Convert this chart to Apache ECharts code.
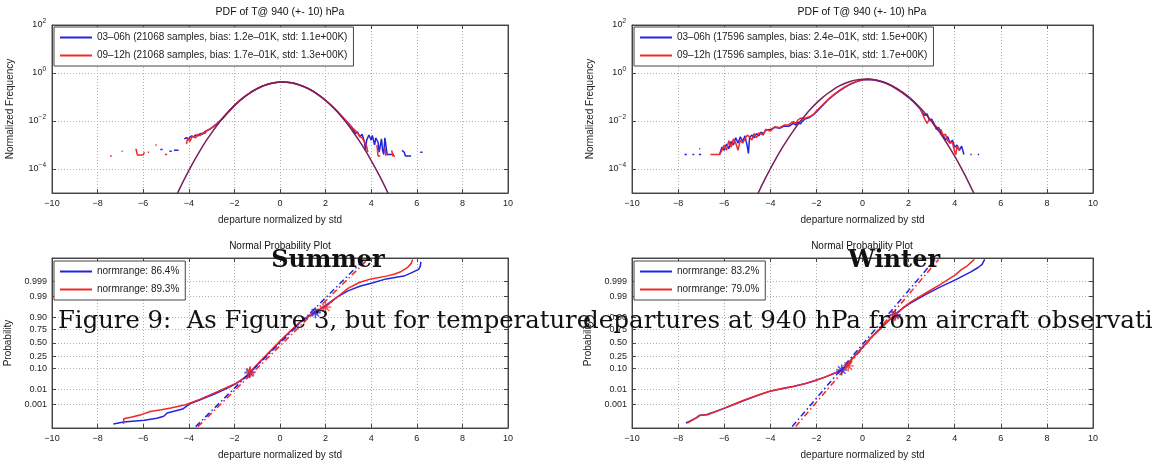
<!DOCTYPE html>
<html><head><meta charset="utf-8">
<script src="https://cdn.jsdelivr.net/npm/echarts@6/dist/echarts.min.js"></script>
<style>html,body{margin:0;padding:0;background:#fff}#c{width:1159px;height:463px}</style>
</head><body><div id="c"></div>
<script>
// ---------- labels ----------
const pdfTitle = 'PDF of T@ 940 (+- 10) hPa';
const nppTitle = 'Normal Probability Plot';
const sumNames = ['03\u201306h (21068 samples, bias: 1.2e\u201301K, std: 1.1e+00K)', '09\u201312h (21068 samples, bias: 1.7e\u201301K, std: 1.3e+00K)'];
const winNames = ['03\u201306h (17596 samples, bias: 2.4e\u201301K, std: 1.5e+00K)', '09\u201312h (17596 samples, bias: 3.1e\u201301K, std: 1.7e+00K)'];
const sumNppNames = ['normrange: 86.4%', 'normrange: 89.3%'];
const winNppNames = ['normrange: 83.2%', 'normrange: 79.0%'];
const pdfTickValues = [1e-4, 1e-2, 1, 100];
const probTickZ = [-3.09, -2.326, -1.2816, -0.6745, 0, 0.6745, 1.2816, 2.326, 3.09];
const probTickLabels = ['0.001', '0.01', '0.10', '0.25', '0.50', '0.75', '0.90', '0.99', '0.999'];
const overlaySummer = 'Summer';
const overlayWinter = 'Winter';
const captionLeft = 'Figure 9:  As Figure 3, but for temperature';
const captionRight = 'departures at 940 hPa from aircraft observati';

// ---------- Summer PDF ----------
const sumBluePdf = [
[-5.25,6.5e-4],[-5.15,6.5e-4],null,[-4.85,5.5e-4],[-4.75,5.5e-4],null,[-4.65,6e-4],[-4.45,6e-4],null,
[-4.2,1.8e-3],[-4.1,2.0e-3],[-4.0,1.8e-3],[-3.9,2.4e-3],[-3.8,2.2e-3],[-3.7,2.6e-3],[-3.6,2.4e-3],[-3.5,3.0e-3],[-3.4,2.8e-3],[-3.3,3.6e-3],[-3.2,4.0e-3],[-3.1,4.4e-3],[-3.0,5.2e-3],[-2.9,6.0e-3],[-2.8,7.2e-3],[-2.7,8.5e-3],[-2.5,1.3e-2],[-2.25,2.4e-2],[-2,4.3e-2],[-1.75,7.2e-2],[-1.5,0.11],[-1.25,0.165],[-1,0.22],[-0.75,0.29],[-0.5,0.35],[-0.25,0.39],[0,0.42],[0.25,0.42],[0.5,0.39],[0.75,0.34],[1,0.28],[1.25,0.22],[1.5,0.16],[1.75,0.11],[2,0.072],[2.25,0.044],[2.5,0.026],[2.75,0.014],[2.9,0.01],[3.0,8e-3],[3.1,6e-3],[3.2,4.5e-3],[3.3,3e-3],[3.4,3.5e-3],[3.5,2.2e-3],[3.6,2.8e-3],[3.7,1.4e-3],[3.75,6e-4],[3.8,1.6e-3],[3.9,2.6e-3],[4.0,1.6e-3],[4.05,2.5e-3],[4.15,1.0e-3],[4.2,2.0e-3],[4.3,1.3e-3],[4.35,5e-4],[4.45,1.8e-3],[4.5,6e-4],[4.55,4e-4],[4.6,2.0e-3],[4.7,4e-4],[5.0,4e-4],null,
[5.35,6e-4],[5.45,5e-4],[5.5,3.5e-4],[5.75,3.5e-4],null,[6.15,5e-4],[6.25,5e-4]];
const sumRedPdf = [
[-7.45,3.5e-4],[-7.38,3.5e-4],null,[-6.95,5.5e-4],[-6.9,5.5e-4],null,[-6.32,7e-4],[-6.25,3.8e-4],[-6.0,3.8e-4],[-5.95,5e-4],null,[-5.8,5e-4],[-5.74,5e-4],null,[-5.47,1.0e-3],[-5.41,1.0e-3],null,[-5.05,4e-4],[-4.95,4e-4],null,
[-4.1,1.1e-3],[-4.05,2.0e-3],[-3.95,1.4e-3],[-3.85,2.3e-3],[-3.7,2.0e-3],[-3.6,2.8e-3],[-3.5,2.4e-3],[-3.4,3.2e-3],[-3.3,3.0e-3],[-3.2,4.0e-3],[-3.0,5.2e-3],[-2.8,7.5e-3],[-2.6,1.1e-2],[-2.5,1.4e-2],[-2.25,2.5e-2],[-2,4.5e-2],[-1.75,7.4e-2],[-1.5,0.112],[-1.25,0.165],[-1,0.225],[-0.75,0.29],[-0.5,0.35],[-0.25,0.395],[0,0.425],[0.25,0.425],[0.5,0.395],[0.75,0.345],[1,0.285],[1.25,0.222],[1.5,0.162],[1.75,0.112],[2,0.073],[2.25,0.045],[2.5,0.026],[2.75,0.0145],[3.0,8e-3],[3.2,5e-3],[3.4,3.2e-3],[3.5,2.2e-3],[3.6,2.0e-3],[3.7,1.4e-3],[3.8,9e-4],[3.85,5e-4],null,
[4.25,1.0e-3],[4.3,3.5e-4],[4.4,3.5e-4],null,[4.6,8e-4],[4.65,3.5e-4],null,[4.9,6e-4],[4.95,3.5e-4],[5.05,3.5e-4]];
const sumFitPdf = [[-4.75,2.97e-6],[-4.5,9.7e-6],[-4.25,2.99e-5],[-4,8.6e-5],[-3.75,2.35e-4],[-3.5,6.0e-4],[-3.25,1.44e-3],[-3,3.2e-3],[-2.75,6.8e-3],[-2.5,0.0136],[-2.25,0.0253],[-2,0.0444],[-1.75,0.0731],[-1.5,0.113],[-1.25,0.164],[-1,0.224],[-0.75,0.288],[-0.5,0.347],[-0.25,0.392],[0,0.417],[0.25,0.416],[0.5,0.391],[0.75,0.344],[1,0.285],[1.25,0.222],[1.5,0.162],[1.75,0.111],[2,0.0716],[2.25,0.0435],[2.5,0.0247],[2.75,0.0132],[3,6.6e-3],[3.25,3.1e-3],[3.5,1.39e-3],[3.75,5.8e-4],[4,2.25e-4],[4.25,8.3e-5],[4.5,2.9e-5],[4.75,9.3e-6],[5,2.8e-6]];

// ---------- Winter PDF ----------
const winBluePdf = [
[-7.72,4e-4],[-7.62,4e-4],null,[-7.38,4e-4],[-7.3,4e-4],null,[-7.08,7e-4],[-7.04,7e-4],null,[-7.1,4e-4],[-7.0,4e-4],null,
[-6.2,4e-4],[-6.1,8e-4],[-6.0,6e-4],[-5.9,1.1e-3],[-5.8,7e-4],[-5.7,1.4e-3],[-5.6,1.0e-3],[-5.5,2.0e-3],[-5.4,1.2e-3],[-5.3,2.2e-3],[-5.2,1.4e-3],[-5.1,2.4e-3],[-5.0,9e-4],[-4.95,4.5e-4],[-4.9,2.0e-3],[-4.8,2.6e-3],[-4.7,2.0e-3],[-4.6,3.0e-3],[-4.5,2.4e-3],[-4.4,3.4e-3],[-4.3,3.0e-3],[-4.2,4.2e-3],[-4.0,4.4e-3],[-3.8,5.5e-3],[-3.6,5.0e-3],[-3.4,6.2e-3],[-3.2,6.0e-3],[-3.0,8e-3],[-2.9,6.8e-3],[-2.8,9e-3],[-2.7,7.5e-3],[-2.6,1.0e-2],[-2.5,1.2e-2],[-2.3,1.4e-2],[-2.1,1.9e-2],[-2.0,2.4e-2],[-1.75,4.2e-2],[-1.5,7.5e-2],[-1.25,0.12],[-1,0.18],[-0.75,0.26],[-0.5,0.35],[-0.25,0.44],[0,0.51],[0.25,0.54],[0.5,0.51],[0.75,0.45],[1,0.38],[1.25,0.29],[1.5,0.21],[1.75,0.145],[2,0.095],[2.25,0.058],[2.5,0.032],[2.6,0.022],[2.7,0.017],[2.8,0.02],[2.9,0.011],[3.0,0.012],[3.1,8e-3],[3.2,4.5e-3],[3.3,5.5e-3],[3.4,3.2e-3],[3.5,2.6e-3],[3.6,1.6e-3],[3.7,2.2e-3],[3.8,1.2e-3],[3.9,1.6e-3],[4.0,8e-4],[4.1,1.0e-3],[4.2,6e-4],[4.3,9e-4],[4.4,4e-4],null,
[4.68,4e-4],[4.74,4e-4],null,[5.0,4e-4],[5.06,4e-4]];
const winRedPdf = [
[-6.6,4e-4],[-6.2,4e-4],[-6.1,6e-4],[-6.0,1.0e-3],[-5.9,6e-4],[-5.8,1.5e-3],[-5.7,8e-4],[-5.6,1.8e-3],[-5.5,1.2e-3],[-5.4,6e-4],[-5.3,1.6e-3],[-5.2,1.2e-3],[-5.1,1.8e-3],[-5.0,2.6e-3],[-4.9,2.2e-3],[-4.8,1.6e-3],[-4.7,3.0e-3],[-4.6,2.0e-3],[-4.5,3.2e-3],[-4.3,2.6e-3],[-4.2,4.5e-3],[-4.0,3.8e-3],[-3.8,5.8e-3],[-3.6,5.2e-3],[-3.4,6.8e-3],[-3.2,7.0e-3],[-3.0,9.5e-3],[-2.9,8e-3],[-2.8,1.1e-2],[-2.7,1.3e-2],[-2.5,1.3e-2],[-2.3,1.5e-2],[-2.1,2.0e-2],[-2.0,2.6e-2],[-1.75,4.5e-2],[-1.5,7.8e-2],[-1.25,0.125],[-1,0.19],[-0.75,0.27],[-0.5,0.36],[-0.25,0.45],[0,0.52],[0.25,0.55],[0.5,0.52],[0.75,0.46],[1,0.38],[1.25,0.3],[1.5,0.22],[1.75,0.15],[2,0.1],[2.25,0.06],[2.5,0.033],[2.6,0.02],[2.7,0.012],[2.8,0.008],[2.9,0.012],[3.0,0.01],[3.1,7e-3],[3.2,6e-3],[3.3,4e-3],[3.4,4.5e-3],[3.5,2.5e-3],[3.6,2.8e-3],[3.7,1.5e-3],[3.8,1.2e-3],[3.9,1.3e-3],[4.0,5e-4],[4.05,4e-4],[4.1,9e-4],[4.2,6e-4]];
const winFitPdf = [[-4.75,3.4e-6],[-4.5,1.13e-5],[-4.25,3.5e-5],[-4,1.02e-4],[-3.75,2.78e-4],[-3.5,7.2e-4],[-3.25,1.73e-3],[-3,3.9e-3],[-2.75,8.4e-3],[-2.5,0.0167],[-2.25,0.0314],[-2,0.0555],[-1.75,0.0921],[-1.5,0.1436],[-1.25,0.21],[-1,0.289],[-0.75,0.374],[-0.5,0.453],[-0.25,0.517],[0,0.554],[0.25,0.557],[0.5,0.527],[0.75,0.468],[1,0.39],[1.25,0.306],[1.5,0.225],[1.75,0.156],[2,0.1012],[2.25,0.0618],[2.5,0.0354],[2.75,0.0191],[3,9.6e-3],[3.25,4.6e-3],[3.5,2.05e-3],[3.75,8.6e-4],[4,3.4e-4],[4.25,1.25e-4],[4.5,4.4e-5],[4.75,1.42e-5],[5,4.4e-6]];

// ---------- Summer normal probability ----------
const sumBlueNpp = [[-7.31,-4.07],[-6.86,-3.97],[-5.95,-3.88],[-5.4,-3.78],[-5.1,-3.68],[-4.95,-3.52],[-4.27,-3.32],[-3.95,-3.05],[-3.5,-2.85],[-2.85,-2.55],[-2.4,-2.32],[-1.94,-2.05],[-1.6,-1.78],[-1.33,-1.52],[-0.9,-0.98],[-0.45,-0.45],[0,0.08],[0.45,0.58],[0.9,1.06],[1.25,1.33],[1.55,1.55],[2.07,1.94],[2.5,2.3],[2.98,2.62],[3.5,2.85],[4.0,3.0],[4.66,3.22],[5.1,3.3],[5.43,3.36],[5.76,3.52],[6.08,3.7],[6.15,3.85],[6.18,4.07]];
const sumRedNpp = [[-6.86,-4.07],[-6.85,-3.8],[-6.5,-3.72],[-6.08,-3.6],[-5.69,-3.44],[-5.2,-3.35],[-4.79,-3.26],[-4.14,-3.1],[-3.49,-2.82],[-2.72,-2.43],[-1.94,-2.03],[-1.42,-1.66],[-1.3,-1.45],[-0.9,-0.96],[-0.45,-0.43],[0,0.1],[0.45,0.6],[0.9,1.08],[1.3,1.4],[1.6,1.6],[2.0,1.82],[2.5,2.3],[2.98,2.74],[3.5,3.05],[4.0,3.22],[4.66,3.36],[5.0,3.45],[5.3,3.58],[5.6,3.8],[5.76,4.0],[5.82,4.2]];
const sumBlueRef = [[-3.7,-4.2],[3.7,4.2]];
const sumRedRef = [[-3.6,-4.2],[3.85,4.2]];
const sumBlueMarks = [[-1.33,-1.5],[1.55,1.52]];
const sumRedMarks = [[-1.3,-1.45],[2.0,1.8]];

// ---------- Winter normal probability ----------
const winBlueNpp = [[-7.66,-4.02],[-7.47,-3.92],[-7.2,-3.75],[-7.08,-3.64],[-6.75,-3.59],[-6.4,-3.45],[-5.97,-3.27],[-5.5,-3.05],[-5.06,-2.85],[-4.5,-2.62],[-4.03,-2.43],[-3.5,-2.3],[-2.99,-2.18],[-2.5,-2.05],[-2.08,-1.9],[-1.6,-1.7],[-1.3,-1.56],[-0.9,-1.36],[-0.5,-0.85],[0,-0.22],[0.4,0.3],[0.78,0.72],[1.1,1.08],[1.43,1.44],[1.75,1.75],[2.08,2.0],[2.73,2.43],[3.38,2.82],[4.03,3.17],[4.68,3.56],[5.0,3.78],[5.19,3.95],[5.3,4.2]];
const winRedNpp = [[-7.6,-4.02],[-7.5,-3.95],[-7.15,-3.72],[-7.05,-3.63],[-6.7,-3.6],[-6.4,-3.46],[-5.97,-3.26],[-5.5,-3.04],[-5.06,-2.84],[-4.5,-2.6],[-4.03,-2.42],[-3.5,-2.29],[-2.99,-2.17],[-2.5,-2.04],[-2.08,-1.9],[-1.6,-1.7],[-1.3,-1.55],[-0.9,-1.35],[-0.6,-1.12],[-0.5,-0.88],[0,-0.2],[0.4,0.32],[0.78,0.74],[1.1,1.1],[1.43,1.42],[1.75,1.76],[2.08,2.05],[2.73,2.5],[3.38,2.95],[4.03,3.42],[4.3,3.7],[4.55,3.88],[4.85,4.2]];
const winBlueRef = [[-3.05,-4.2],[3.15,4.2]];
const winRedRef = [[-2.9,-4.2],[3.3,4.2]];
const winBlueMarks = [[-0.9,-1.36],[1.43,1.42]];
const winRedMarks = [[-0.62,-1.15],[1.4,1.38]];

// ---------- styling ----------
const SANS = 'Liberation Sans, Arial, Helvetica, sans-serif';
const SERIF = 'DejaVu Serif, serif';
const BLUE = '#2424dc', RED = '#f02828', FIT = '#7a1f5c';
const TXT = '#222';
const PROB_LIM = 4.27;
const grids = [
  {left: 52, top: 25, width: 456, height: 168},
  {left: 632, top: 25, width: 461, height: 168},
  {left: 52, top: 258, width: 456, height: 170},
  {left: 632, top: 258, width: 461, height: 170}
];
const gap = arr => arr.map(p => p === null ? ['-', '-'] : p);
const minus = v => String(v).replace('-', '\u2212');
const gridLine = {show: true, lineStyle: {color: '#b0b0b0', type: [1, 2]}};
const tickStyle = {show: true, inside: true, length: 4, lineStyle: {color: '#444'}};
const axLine = {show: true, onZero: false, lineStyle: {color: '#444'}};
const nameStyle = {fontFamily: SANS, fontSize: 10, color: TXT};

function xAx(i) {
  return {type: 'value', gridIndex: i, min: -10, max: 10, interval: 2, axisLine: axLine, axisTick: tickStyle,
    axisLabel: {fontFamily: SANS, fontSize: 9, color: TXT, margin: 6, formatter: minus},
    splitLine: gridLine, name: 'departure normalized by std', nameLocation: 'middle', nameGap: 22, nameTextStyle: nameStyle};
}
function xTop(i) {
  return {type: 'value', gridIndex: i, position: 'top', min: -10, max: 10, interval: 2, axisLine: axLine,
    axisTick: tickStyle, axisLabel: {show: false}, splitLine: {show: false}};
}
function yLog(i) {
  return {type: 'log', gridIndex: i, logBase: 10, min: 1e-5, max: 100, axisLine: axLine,
    axisTick: Object.assign({customValues: pdfTickValues}, tickStyle),
    axisLabel: {customValues: pdfTickValues, margin: 6,
      formatter: v => { const e = Math.round(Math.log10(v)); return '{b|10}{s|' + minus(e) + '}'; },
      rich: {b: {fontFamily: SANS, fontSize: 9, color: TXT, lineHeight: 14},
             s: {fontFamily: SANS, fontSize: 6.5, color: TXT, lineHeight: 7, verticalAlign: 'top'}}},
    splitLine: gridLine, name: 'Normalized Frequency', nameLocation: 'middle', nameGap: 37, nameTextStyle: nameStyle};
}
function yLogRight(i) {
  return {type: 'log', gridIndex: i, position: 'right', logBase: 10, min: 1e-5, max: 100, axisLine: axLine,
    axisTick: Object.assign({customValues: pdfTickValues}, tickStyle), axisLabel: {show: false}, splitLine: {show: false}};
}
function yProb(i) {
  return {type: 'value', gridIndex: i, min: -PROB_LIM, max: PROB_LIM, axisLine: axLine,
    axisTick: Object.assign({customValues: probTickZ}, tickStyle),
    axisLabel: {customValues: probTickZ, fontFamily: SANS, fontSize: 9, color: TXT, margin: 5,
      formatter: v => { const k = probTickZ.findIndex(z => Math.abs(z - v) < 1e-6); return k >= 0 ? probTickLabels[k] : ''; }},
    splitLine: gridLine, name: 'Probability', nameLocation: 'middle', nameGap: 39, nameTextStyle: nameStyle};
}
function yProbRight(i) {
  return {type: 'value', gridIndex: i, position: 'right', min: -PROB_LIM, max: PROB_LIM, axisLine: axLine,
    axisTick: Object.assign({customValues: probTickZ}, tickStyle), axisLabel: {show: false}, splitLine: {show: false}};
}
function line(name, data, i, color, extra) {
  return Object.assign({type: 'line', name: name, xAxisIndex: i, yAxisIndex: i, data: gap(data),
    showSymbol: false, symbol: 'none', connectNulls: false, clip: true, animation: false,
    lineStyle: {color: color, width: 1.5}, itemStyle: {color: color}, z: 3}, extra || {});
}
const star = 'path://M5,0L5,10M0,5L10,5M1.6,1.6L8.4,8.4M1.6,8.4L8.4,1.6';
function marks(data, i, color) {
  return {type: 'scatter', xAxisIndex: i, yAxisIndex: i, data: data, symbol: star, symbolSize: 11,
    itemStyle: {color: 'rgba(0,0,0,0)', borderColor: color, borderWidth: 1.4}, z: 6, animation: false, silent: true};
}
function refLine(data, i, color) {
  return line('', data, i, color, {lineStyle: {color: color, width: 1.5, type: [6, 3, 1.5, 3]}, z: 4, silent: true});
}
function legend(names, left, top) {
  return {data: names, left: left, top: top, orient: 'vertical', icon: 'rect', itemWidth: 32, itemHeight: 2,
    itemGap: 5, padding: [4, 6, 4, 6], backgroundColor: '#fff', borderColor: '#444', borderWidth: 1, borderRadius: 0,
    textStyle: {fontFamily: SANS, fontSize: 10, color: TXT, lineHeight: 13}, selectedMode: false, z: 10};
}
function txt(x, y, text, font, align) {
  return {type: 'text', x: x, y: y, z: 100, silent: true,
    style: {text: text, font: font, fill: '#111', align: align || 'center', verticalAlign: 'middle',
            textAlign: align || 'center', textVerticalAlign: 'middle'}};
}

const option = {
  backgroundColor: '#fff',
  animation: false,
  grid: grids.map(g => Object.assign({show: true, borderColor: '#555', borderWidth: 1, backgroundColor: '#fff', containLabel: false}, g)),
  xAxis: [xAx(0), xAx(1), xAx(2), xAx(3), xTop(0), xTop(1), xTop(2), xTop(3)],
  yAxis: [yLog(0), yLog(1), yProb(2), yProb(3), yLogRight(0), yLogRight(1), yProbRight(2), yProbRight(3)],
  legend: [legend(sumNames, 54, 27), legend(winNames, 634, 27), legend(sumNppNames, 54, 261), legend(winNppNames, 634, 261)],
  series: [
    line(sumNames[0], sumBluePdf, 0, BLUE),
    line(sumNames[1], sumRedPdf, 0, RED),
    line('', sumFitPdf, 0, FIT, {smooth: 0.3, z: 4, silent: true}),
    line(winNames[0], winBluePdf, 1, BLUE),
    line(winNames[1], winRedPdf, 1, RED),
    line('', winFitPdf, 1, FIT, {smooth: 0.3, z: 4, silent: true}),
    line(sumNppNames[0], sumBlueNpp, 2, BLUE),
    line(sumNppNames[1], sumRedNpp, 2, RED),
    refLine(sumRedRef, 2, RED),
    refLine(sumBlueRef, 2, BLUE),
    marks(sumBlueMarks, 2, BLUE),
    marks(sumRedMarks, 2, RED),
    line(winNppNames[0], winBlueNpp, 3, BLUE),
    line(winNppNames[1], winRedNpp, 3, RED),
    refLine(winRedRef, 3, RED),
    refLine(winBlueRef, 3, BLUE),
    marks(winBlueMarks, 3, BLUE),
    marks(winRedMarks, 3, RED)
  ],
  graphic: [
    txt(280, 12, pdfTitle, '10.5px ' + SANS),
    txt(862, 12, pdfTitle, '10.5px ' + SANS),
    txt(280, 246, nppTitle, '10px ' + SANS),
    txt(862, 246, nppTitle, '10px ' + SANS),
    txt(328, 261, overlaySummer, 'bold 24px ' + SERIF),
    txt(894, 261, overlayWinter, 'bold 24px ' + SERIF),
    txt(58, 322, captionLeft, '24.3px ' + SERIF, 'left'),
    txt(583, 322, captionRight, '24.6px ' + SERIF, 'left')
  ]
};
const chart = echarts.init(document.getElementById('c'), null, {renderer: 'canvas'});
chart.setOption(option);
</script></body></html>
